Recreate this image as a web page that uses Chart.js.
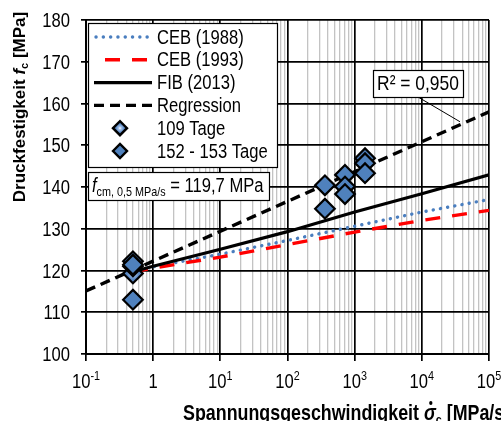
<!DOCTYPE html>
<html><head><meta charset="utf-8">
<script src="https://cdn.jsdelivr.net/npm/chart.js@4.4.0/dist/chart.umd.min.js"></script>
<style>html,body{margin:0;padding:0;background:#fff;overflow:hidden}canvas{display:block}</style>
</head><body><canvas id="c" width="501" height="421"></canvas>
<script>
// ---------- data ----------
const xMin = 0.1, xMax = 100000;
const yMin = 100, yMax = 180;
const yTicks = [100, 110, 120, 130, 140, 150, 160, 170, 180];
const xTickValues = [0.1, 1, 10, 100, 1000, 10000, 100000];
const xTickBases = ['10', '1', '10', '10', '10', '10', '10'];
const xTickExps = ['-1', '', '1', '2', '3', '4', '5'];

const modelRates = [0.5, 1, 10, 100, 1000, 10000, 100000];
const ceb1988 = [119.7, 120.9, 123.9, 127.2, 130.6, 134.0, 137.0];
const ceb1993 = [119.7, 120.6, 123.2, 126.2, 129.2, 132.0, 134.4];
const fib2013 = [119.7, 121.0, 125.1, 129.3, 134.0, 138.4, 142.9];
const regRates = [0.1, 100000];
const regression = [115.1, 158.0];

const rate109 = [0.5, 0.5];
const fc109 = [119.3, 121.0];
const rate152 = [0.5, 0.5, 0.5, 361, 361, 718, 718, 718, 1426, 1426, 1426];
const fc152 = [113.0, 122.2, 121.4, 140.4, 134.8, 142.9, 140.1, 138.3, 146.9, 145.7, 143.3];

const seriesLabels = ['CEB (1988)', 'CEB (1993)', 'FIB (2013)', 'Regression', '109 Tage', '152 - 153 Tage'];
const r2Text = 'R² = 0,950';
const fcmParts = ['f', 'cm, 0,5 MPa/s', ' = 119,7 MPa'];
const yTitleParts = ['Druckfestigkeit ', 'f', 'c', ' [MPa]'];
const xTitleParts = ['Spannungsgeschwindigkeit ', 'σ', 'c', ' [MPa/s]'];

// ---------- helpers ----------
const FONT = '"Liberation Sans", Arial, Helvetica, sans-serif';
const KX = 0.83;
const fnt = (size, style) => (style || '') + ' ' + size + 'px ' + FONT;
const pts = (xs, ys) => xs.map((x, i) => ({ x: x, y: ys[i] }));
const isDecade = v => { const l = Math.log10(v); return Math.abs(l - Math.round(l)) < 1e-9; };

const gridValues = [];
for (let e = -1; e <= 4; e++) for (let m = 1; m <= 9; m++) gridValues.push(+(m * Math.pow(10, e)).toPrecision(6));
gridValues.push(xMax);

function drawParts(ctx, parts, align) {
  let w = 0;
  for (const p of parts) { ctx.font = p.font; p.w = ctx.measureText(p.t).width; w += p.w; }
  let cx = align === 'center' ? -w / 2 : align === 'right' ? -w : 0;
  for (const p of parts) {
    ctx.font = p.font;
    ctx.fillText(p.t, cx, p.dy || 0);
    if (p.dot !== undefined) { ctx.beginPath(); ctx.arc(cx + p.w * 0.58, p.dot, 2.0, 0, Math.PI * 2); ctx.fill(); }
    cx += p.w;
  }
  return w;
}
function textAt(ctx, x, y, parts, align, baseline) {
  ctx.save(); ctx.translate(x, y); ctx.scale(KX, 1);
  ctx.textAlign = 'left'; ctx.textBaseline = baseline || 'alphabetic'; ctx.fillStyle = '#000';
  const w = drawParts(ctx, parts, align);
  ctx.restore(); return w * KX;
}
function diamondFill(ctx, px, py, r, light) {
  if (!light) return '#4f81bd';
  const g = ctx.createRadialGradient(px, py, 0, px, py, r);
  g.addColorStop(0, '#ffffff'); g.addColorStop(0.2, '#a7c4ea'); g.addColorStop(0.6, '#5886c2'); g.addColorStop(1, '#4f81bd');
  return g;
}
function diamond(ctx, px, py, r, light) {
  ctx.save();
  ctx.beginPath(); ctx.moveTo(px - r, py); ctx.lineTo(px, py - r); ctx.lineTo(px + r, py); ctx.lineTo(px, py + r); ctx.closePath();
  ctx.fillStyle = diamondFill(ctx, px, py, r, light); ctx.fill();
  ctx.lineWidth = 2.4; ctx.strokeStyle = '#000'; ctx.lineJoin = 'miter'; ctx.stroke();
  ctx.restore();
}

const decorPlugin = {
  id: 'decor',
  beforeDraw(chart) {
    const c = chart.ctx; c.save(); c.fillStyle = '#fff'; c.fillRect(0, 0, chart.width, chart.height); c.restore();
  },
  afterDraw(chart) {
    const ctx = chart.ctx, ca = chart.chartArea, sx = chart.scales.x, sy = chart.scales.y;
    // y tick labels
    yTicks.forEach(v => {
      textAt(ctx, ca.left - 16, sy.getPixelForValue(v) + 7, [{ t: String(v), font: fnt(20) }], 'right');
    });
    // x tick labels
    xTickValues.forEach((v, i) => {
      const parts = [{ t: xTickBases[i], font: fnt(20) }];
      if (xTickExps[i]) parts.push({ t: xTickExps[i], font: fnt(13), dy: -8 });
      textAt(ctx, sx.getPixelForValue(v), ca.bottom + 34, parts, 'center');
    });
    // x title
    textAt(ctx, ca.left + 97, 420, [
      { t: xTitleParts[0], font: fnt(21.5, 'bold') },
      { t: xTitleParts[1], font: fnt(21.5, 'italic bold'), dot: -17 },
      { t: xTitleParts[2], font: fnt(13, 'bold'), dy: 4 },
      { t: xTitleParts[3], font: fnt(21.5, 'bold') }
    ], 'left');
    // y title
    ctx.save(); ctx.translate(21, 107); ctx.rotate(-Math.PI / 2); ctx.scale(1, 0.95);
    ctx.textBaseline = 'middle'; ctx.fillStyle = '#000';
    drawParts(ctx, [
      { t: yTitleParts[0], font: fnt(17, 'bold') },
      { t: yTitleParts[1], font: fnt(17, 'italic bold') },
      { t: yTitleParts[2], font: fnt(11, 'bold'), dy: 4 },
      { t: yTitleParts[3], font: fnt(17, 'bold') }
    ], 'center');
    ctx.restore();

    // legend box
    const lx0 = ca.left + 2, ly0 = ca.top + 3, lw = 189, lh = 144;
    ctx.save();
    ctx.fillStyle = '#fff'; ctx.fillRect(lx0, ly0, lw, lh);
    ctx.strokeStyle = '#000'; ctx.lineWidth = 1.2; ctx.strokeRect(lx0 + 0.5, ly0 + 0.5, lw, lh);
    ctx.restore();
    chart.data.datasets.forEach((ds, i) => {
      const cy = ly0 + 14 + i * 22.8;
      if (ds.showLine) {
        ctx.save();
        ctx.strokeStyle = ds.borderColor; ctx.lineWidth = ds.borderWidth;
        ctx.setLineDash(ds.borderDash || []); ctx.lineDashOffset = ds.legendDashOffset || 0;
        ctx.lineCap = ds.borderCapStyle || 'butt';
        ctx.beginPath(); ctx.moveTo(lx0 + (ds.legendStart || 6), cy); ctx.lineTo(lx0 + 64, cy); ctx.stroke();
        ctx.restore();
      } else {
        diamond(ctx, lx0 + 32, cy, 7, ds.lightFill);
      }
      textAt(ctx, lx0 + 69, cy + 1, [{ t: ds.label, font: fnt(20) }], 'left', 'middle');
    });

    // fcm box
    const fx = ca.left + 2, fy = ca.top + 152, fw = 181, fh = 28;
    ctx.save();
    ctx.fillStyle = '#fff'; ctx.fillRect(fx, fy, fw, fh);
    ctx.strokeStyle = '#000'; ctx.lineWidth = 1.2; ctx.strokeRect(fx + 0.5, fy + 0.5, fw, fh);
    ctx.restore();
    textAt(ctx, fx + 4, fy + 20, [
      { t: fcmParts[0], font: fnt(20, 'italic') },
      { t: fcmParts[1], font: fnt(13), dy: 4 },
      { t: fcmParts[2], font: fnt(20) }
    ], 'left');

    // R² label with leader line
    const bx = ca.left + 287, by = ca.top + 50, bw = 90, bh = 27;
    const ax = 37000;
    const t = (Math.log10(ax) - Math.log10(regRates[0])) / (Math.log10(regRates[1]) - Math.log10(regRates[0]));
    const ay = regression[0] + t * (regression[1] - regression[0]);
    ctx.save();
    ctx.strokeStyle = '#000'; ctx.lineWidth = 1;
    ctx.beginPath(); ctx.moveTo(bx + 45, by + bh); ctx.lineTo(sx.getPixelForValue(ax), sy.getPixelForValue(ay) - 3); ctx.stroke();
    ctx.fillStyle = '#fff'; ctx.fillRect(bx, by, bw, bh);
    ctx.lineWidth = 1.2; ctx.strokeRect(bx + 0.5, by + 0.5, bw, bh);
    ctx.restore();
    textAt(ctx, bx + bw / 2, by + bh / 2 + 1, [{ t: r2Text, font: fnt(21) }], 'center', 'middle');
  }
};

const lineBase = { showLine: true, pointRadius: 0, pointHoverRadius: 0, fill: false, tension: 0 };
const pointBase = { showLine: false, pointStyle: 'rectRot', pointRadius: 9.8, pointHoverRadius: 9.8, pointBorderWidth: 2.2, borderColor: '#000', pointBorderColor: '#000' };

new Chart(document.getElementById('c'), {
  type: 'scatter',
  data: {
    datasets: [
      Object.assign({}, lineBase, { label: seriesLabels[0], data: pts(modelRates, ceb1988), borderColor: '#4a7ebf', borderWidth: 3.4, borderDash: [0.1, 7.2], borderCapStyle: 'round', legendStart: 8, order: 5 }),
      Object.assign({}, lineBase, { label: seriesLabels[1], data: pts(modelRates, ceb1993), borderColor: '#ff0000', borderWidth: 3.4, borderDash: [15, 12], legendDashOffset: -11, order: 4 }),
      Object.assign({}, lineBase, { label: seriesLabels[2], data: pts(modelRates, fib2013), borderColor: '#000000', borderWidth: 3.2, order: 3 }),
      Object.assign({}, lineBase, { label: seriesLabels[3], data: pts(regRates, regression), borderColor: '#000000', borderWidth: 3.4, borderDash: [10, 6], order: 2 }),
      Object.assign({}, pointBase, { label: seriesLabels[4], data: pts(rate109, fc109), lightFill: true, order: 1,
        pointBackgroundColor: (c) => {
          const ch = c.chart;
          if (c.type !== 'data' || !ch.chartArea || !c.parsed) return '#6f9bd3';
          const px = ch.scales.x.getPixelForValue(c.parsed.x), py = ch.scales.y.getPixelForValue(c.parsed.y);
          return diamondFill(ch.ctx, px, py, 9.8, true);
        } }),
      Object.assign({}, pointBase, { label: seriesLabels[5], data: pts(rate152, fc152), pointBackgroundColor: '#4f81bd', order: 0 })
    ]
  },
  options: {
    responsive: false, animation: false, devicePixelRatio: 1, events: [],
    layout: { padding: { left: 0, top: 20, right: 12, bottom: 0 } },
    plugins: { legend: { display: false }, tooltip: { enabled: false } },
    scales: {
      x: {
        type: 'logarithmic', min: xMin, max: xMax,
        afterBuildTicks: s => { s.ticks = gridValues.map(v => ({ value: v, major: isDecade(v) })); },
        afterFit: s => { s.height = 67; },
        ticks: { display: false },
        grid: {
          color: c => (c.tick && isDecade(c.tick.value)) ? '#000' : '#c3c3c3',
          lineWidth: c => (c.tick && isDecade(c.tick.value)) ? 1.7 : 1.3,
          tickColor: c => (c.tick && isDecade(c.tick.value)) ? '#000' : 'rgba(0,0,0,0)',
          tickLength: 7, tickWidth: 1.7
        },
        border: { color: '#000', width: 2 }
      },
      y: {
        min: yMin, max: yMax,
        afterBuildTicks: s => { s.ticks = yTicks.map(v => ({ value: v })); },
        afterFit: s => { s.width = 86; },
        ticks: { display: false },
        grid: { color: '#000', lineWidth: 1.7, tickLength: 5, tickWidth: 1.7 },
        border: { color: '#000', width: 2 }
      }
    }
  },
  plugins: [decorPlugin]
});
</script>
</body></html>
